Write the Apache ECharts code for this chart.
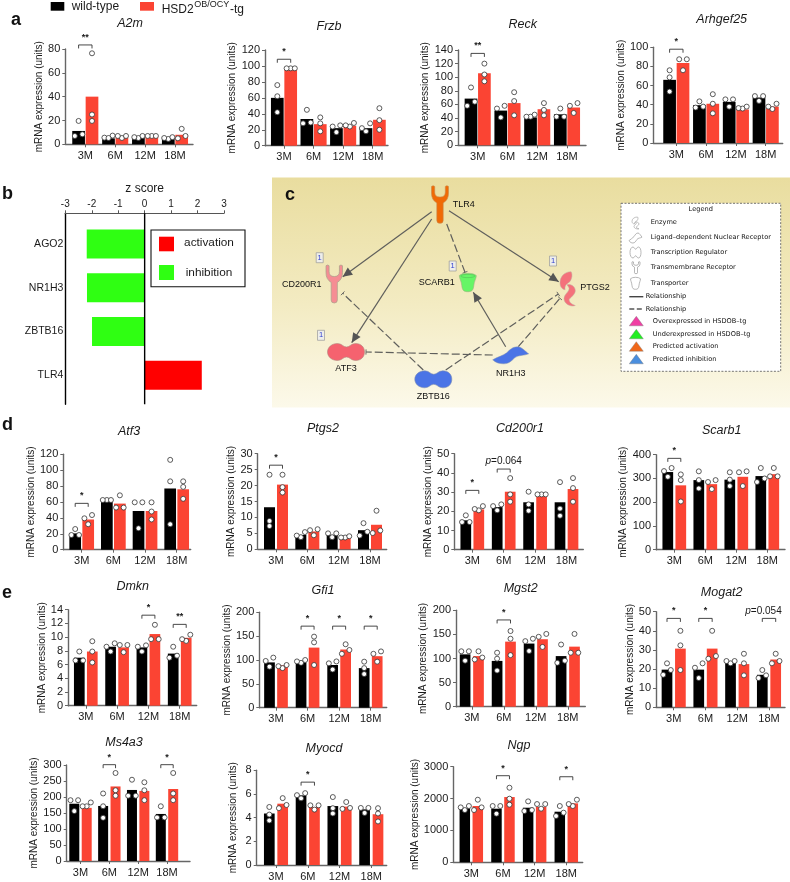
<!DOCTYPE html>
<html><head><meta charset="utf-8">
<style>html,body{margin:0;padding:0;background:#fff}#c{width:790px;height:882px}#c canvas{filter:blur(.35px)}</style>
<script src="https://cdn.jsdelivr.net/npm/echarts@6/dist/echarts.min.js"></script>
</head><body><div id="c"></div>
<script>
const categories=['3M','6M','12M','18M'];
const wildName='wild-type', tgName='HSD2 OB/OCY-tg';
const zGenes=['AGO2','NR1H3','ZBTB16','TLR4'];
const zScores=[-2.19,-2.18,-1.99,2.16];

// ---- values: bar heights, individual animals, significance brackets [category, level, text]
const a2mW=[11.2,5,5.5,4.5], a2mT=[40,5.5,6.5,8];
const a2mWD=[[19.6,7,8.4],[5.6,7.3,5.3],[5.3,7,6],[4.5,6,5.3]], a2mTD=[[76.4,25,19.6],[5.3,7,7],[7,7,7],[5,13,7]];
const a2mM=[[0,83.4,'**']];
const frzbW=[60,33.5,22,22], frzbT=[96,27,25,32.5];
const frzbWD=[[76,62,42],[45,28,29],[25.5,17,24],[28,18,22]], frzbTD=[[97,97,97],[35.5,28,18],[24,28.5,25.5],[47,32,20]];
const frzbM=[[0,108.4,'*']];
const reckW=[68.6,51,41,45.5], reckT=[106,62,53,55.5];
const reckWD=[[85,64,58],[58,41,54],[42,45,42],[42,54,42]], reckTD=[[120,104,94],[78,65,44],[62,52,44],[62,47.5,58]];
const reckM=[[0,135,'**']];
const arhgW=[66,39.5,43,47.5], arhgT=[83.5,41,35,38];
const arhgWD=[[76,68.6,53.7],[37,43.5,38],[45.6,38,45.6],[49,44,49]], arhgTD=[[87.5,76,87.5],[51,41,31],[36,38,36.5],[41,35.5,38]];
const arhgM=[[0,98,'*']];
const atf3W=[20.5,62.5,48.7,77], atf3T=[38,58,48.7,76];
const atf3WD=[[26,18.5,18.5],[62.5,62.5,62.5],[59.6,27,59.6],[113,86,32]], atf3TD=[[43.6,32,39.5],[68.4,53,53],[59.6,48,38],[86,79,64]];
const atf3M=[[0,58.3,'*']];
const ptgsW=[13.2,4.5,4.5,6], ptgsT=[20.3,5.6,3.7,7.7];
const ptgsWD=[[23.4,8.9,7.3],[5.4,3.8,4.3],[5,3.8,5],[8.2,4.3,5.5]], ptgsTD=[[23.4,19.5,17.8],[6.3,4.4,6],[3.7,4.1,3.7],[12.1,5.1,5.9]];
const ptgsM=[[0,26.4,'*']];
const cd200W=[15.3,22.2,24.7,24.7], cd200T=[21,30.2,28.8,31.6];
const cd200WD=[[17.9,14.4,14.4],[23.6,20.5,22.7],[30.2,23.6,20.3],[35.2,21.4,17.7]], cd200TD=[[22.7,20.5,21.2],[37.3,28.8,25],[28.8,28.8,28.8],[37.3,32.1,25]];
const cd200M=[[0,30.9,'*'],[1,42,'p=0.064']];
const scarbW=[327,293,295,310], scarbT=[271,276,307,318];
const scarbWD=[[344,307,331],[330,293,258],[326,295,268],[344,285,300]], scarbTD=[[317,293,203],[293,255,285],[330,268,326],[344,309,309]];
const scarbM=[[0,384.6,'*']];
const dmknW=[7,8.6,8.5,7.6], dmknT=[7.9,8.5,10.45,9.9];
const dmknWD=[[7.9,6.6,6.6],[9.1,7.9,8.6],[8.8,7.9,8.6],[8.6,7,7.3]], dmknTD=[[9.4,7.9,6.3],[8.85,7.8,8.85],[11.8,9.7,9.7],[10.35,9.45,9.7]];
const dmknM=[[2,13.2,'*'],[3,11.86,'**']];
const gfi1W=[95,95,89.5,83], gfi1T=[89,126,122,108];
const gfi1WD=[[105,86,98],[94,100,97],[97,80,93],[96.5,83,70.6]], gfi1TD=[[83,89.5,87],[149,137,89.5],[133,121,113],[118,96.5,113]];
const gfi1M=[[1,171,'*'],[2,171,'*'],[3,171,'*']];
const mgstW=[108.6,95,131,105], mgstT=[105,135,140,124.6];
const mgstWD=[[115,95.5,115],[112,99.6,75],[141,115.6,136],[91,129,95.5]], mgstTD=[[98,115,102],[157,141,107],[151,124,145],[112,151,112]];
const mgstM=[[1,180,'*']];
const mogatW=[19.7,19.7,23.5,17], mogatT=[30.7,30.7,22.6,25];
const mogatWD=[[23,17,19.5],[23,20.7,15.3],[23,24.2,24.2],[19.5,15.3,16.7]], mogatTD=[[40,32.4,19.5],[40,25.4,26.8],[28,23,16.7],[28,23,24.2]];
const mogatM=[[0,46.5,'*'],[1,46.5,'*'],[3,46.5,'p=0.054']];
const ms4aW=[179,172,222,147], ms4aT=[166,233,219,225];
const ms4aWD=[[190,156,190],[211,171,135],[254,204,204],[171,136,136]], ms4aTD=[[171,183,171],[275,221,204],[246,221,190],[275,211,190]];
const ms4aM=[[1,301,'*'],[3,301,'*']];
const myocW=[4.35,5.88,4.98,4.7], myocT=[5.18,4.9,4.93,4.29];
const myocWD=[[4.9,4.26,3.76],[6.07,5.63,5.9],[5.74,4.8,4.35],[4.82,4.4,4.82]], myocTD=[[4.8,5.65,5.07],[5.04,4.68,5.04],[4.74,5.32,4.82],[4.8,4.35,3.68]];
const myocM=[[1,7,'*']];
const ngpW=[1693,1682,1713,1588], ngpT=[1766,2048,1735,1850];
const ngpWD=[[1766,1640,1724],[1766,1525,1766],[1912,1609,1640],[1766,1452,1557]], ngpTD=[[1640,1964,1724],[2340,1996,1808],[1828,1682,1828],[1766,1964,1828]];
const ngpM=[[1,2717,'*'],[3,2685,'*']];

const genes=[
 ['A2m',a2mW,a2mT,a2mWD,a2mTD,a2mM,80,20],
 ['Frzb',frzbW,frzbT,frzbWD,frzbTD,frzbM,120,20],
 ['Reck',reckW,reckT,reckWD,reckTD,reckM,140,20],
 ['Arhgef25',arhgW,arhgT,arhgWD,arhgTD,arhgM,100,20],
 ['Atf3',atf3W,atf3T,atf3WD,atf3TD,atf3M,120,20],
 ['Ptgs2',ptgsW,ptgsT,ptgsWD,ptgsTD,ptgsM,30,5],
 ['Cd200r1',cd200W,cd200T,cd200WD,cd200TD,cd200M,50,10],
 ['Scarb1',scarbW,scarbT,scarbWD,scarbTD,scarbM,400,100],
 ['Dmkn',dmknW,dmknT,dmknWD,dmknTD,dmknM,14,2],
 ['Gfi1',gfi1W,gfi1T,gfi1WD,gfi1TD,gfi1M,200,50],
 ['Mgst2',mgstW,mgstT,mgstWD,mgstTD,mgstM,200,50],
 ['Mogat2',mogatW,mogatT,mogatWD,mogatTD,mogatM,50,10],
 ['Ms4a3',ms4aW,ms4aT,ms4aWD,ms4aTD,ms4aM,300,50],
 ['Myocd',myocW,myocT,myocWD,myocTD,myocM,8,2],
 ['Ngp',ngpW,ngpT,ngpWD,ngpTD,ngpM,3000,1000]
];

// ---- layout: axisLeft, axisRight, plotTop, plotBottom, centre of 3M, centre of 18M, barW, barOffset, titleX, titleY, nameX
const layout={
 A2m:[65.3,193,49,144.3,85.3,175,12.7,6.7,130,24,41.7],
 Frzb:[265,388,50,145.7,284,372.7,12.7,6.7,329,27,232],
 Reck:[458,586,50,145.3,477.7,567,12.7,6.7,522.7,25,428],
 Arhgef25:[653.3,782.7,47.3,143,676.3,765.7,12.7,6.7,721.7,20,623],
 Atf3:[63.3,190.7,454.3,549.7,81.7,176.7,11.7,6.5,129,431.7,36],
 Ptgs2:[257.7,386.7,453.7,549.3,276,370,11,6.5,323,429,235],
 Cd200r1:[454.3,583.3,453.7,549.7,472.3,566.5,10.7,6.5,520,429,430.7],
 Scarb1:[656,785,454.7,549.7,674.3,767.3,10.7,6.5,721.7,431,626],
 Dmkn:[68,196.7,609.7,705.7,85.8,179.7,10.7,6.5,132.7,587,44],
 Gfi1:[259.3,386.7,612.3,707.7,276,370.7,10.7,6.5,323,590.7,230.7],
 Mgst2:[456,585.3,610.3,706.7,471.8,567.8,10.7,6.7,520.7,589,426],
 Mogat2:[656,785,611.7,707.3,673.7,769,10.7,6.7,721.7,593,634],
 Ms4a3:[66.7,190,765,861,80.5,167,10,6.2,124,742.7,35],
 Myocd:[256.7,386.7,770.3,866,276,371.3,10.7,6.7,324,748.3,231.7],
 Ngp:[453.3,582.7,766.7,862.3,471.3,566.3,10.5,6.5,519,745.7,416.7]
};
const markShift={Mogat2:-5.5};

const FONT='"Liberation Sans",Arial,sans-serif';
const RED='#fb4433', BLACK='#000', AXIS='#666', TXT='#1a1a1a';
const grid=[],xAxis=[],yAxis=[],series=[],title=[];

function swarm(vals,pxPerUnit){
  // values closer than a dot's width are spread side by side
  const idx=vals.map((v,i)=>[v,i]).sort((a,b)=>a[0]-b[0]);
  const off=new Array(vals.length).fill(0);
  let k=0;
  while(k<idx.length){
    let e=k;
    while(e+1<idx.length && (idx[e+1][0]-idx[e][0])*pxPerUnit<5) e++;
    const n=e-k+1;
    for(let j=k;j<=e;j++){
      const p=j-k;
      off[idx[j][1]] = n===1?0 : n===2?(p===0?-3.8:3.8) : (p===0?0:(p===1?-4.1:4.1));
    }
    k=e+1;
  }
  return off;
}

genes.forEach((g,gi)=>{
  const [name,w,t,wd,td,marks,ymax,step]=g;
  const [L,R,T,B,c0,c3,barW,barOff,tx,ty,nx]=layout[name];
  const u=(c3-c0)/3;
  const pxU=(B-T)/ymax;
  grid.push({left:L,top:T,width:R-L,height:B-T,containLabel:false});
  xAxis.push({gridIndex:gi,type:'value',min:(L-c0)/u,max:(R-c0)/u,containShape:false,
    splitLine:{show:false},
    axisLine:{show:true,onZero:false,lineStyle:{color:AXIS,width:1.4}},
    axisTick:{show:true,length:3,customValues:[0,1,2,3],lineStyle:{color:AXIS,width:1}},
    axisLabel:{customValues:[0,1,2,3],formatter:v=>categories[Math.round(v)],fontSize:11,fontFamily:FONT,color:TXT,margin:6}});
  yAxis.push({gridIndex:gi,type:'value',min:0,max:ymax,interval:step,splitLine:{show:false},
    name:'mRNA expression (units)',nameLocation:'middle',nameGap:L-nx-6.5,nameRotate:90,
    nameTextStyle:{fontSize:10,fontFamily:FONT,color:TXT},
    axisLine:{show:true,onZero:false,lineStyle:{color:AXIS,width:1.4}},
    axisTick:{show:true,length:3,lineStyle:{color:AXIS,width:1}},
    axisLabel:{fontSize:11,fontFamily:FONT,color:TXT,margin:5,formatter:v=>String(v)}});
  title.push({text:name,left:tx,top:ty,textAlign:'center',textVerticalAlign:'middle',padding:0,
    textStyle:{fontSize:12.5,fontStyle:'italic',fontWeight:'normal',fontFamily:FONT,color:TXT}});
  const dx=barOff/u;
  series.push({type:'bar',name:wildName,xAxisIndex:gi,yAxisIndex:gi,barWidth:barW,barGap:'-100%',itemStyle:{color:BLACK},
    data:w.map((v,i)=>[i-dx,v]),animation:false,silent:true,z:2});
  series.push({type:'bar',name:tgName,xAxisIndex:gi,yAxisIndex:gi,barWidth:barW,barGap:'-100%',itemStyle:{color:RED},
    data:t.map((v,i)=>[i+dx,v]),animation:false,silent:true,z:2});
  const dots=(arr,sign)=>{const out=[];arr.forEach((vals,i)=>{const o=swarm(vals,pxU);vals.forEach((v,j)=>out.push([i+sign*dx+o[j]/u,v]));});return out;};
  [[wd,-1],[td,1]].forEach(([arr,sign])=>series.push({type:'scatter',xAxisIndex:gi,yAxisIndex:gi,symbol:'circle',symbolSize:5,
    itemStyle:{color:'#fff',borderColor:'#333',borderWidth:0.8,opacity:1},data:dots(arr,sign),animation:false,silent:true,z:4}));
  const shift=markShift[name]||0;
  series.push({type:'custom',xAxisIndex:gi,yAxisIndex:gi,clip:false,animation:false,silent:true,z:5,
    encode:{x:0,y:1},data:marks.map(m=>[m[0],m[1]]),
    renderItem:(p,api)=>{
      const m=marks[p.dataIndex];
      const a=api.coord([m[0]-dx,m[1]]),b=api.coord([m[0]+dx,m[1]]);
      const isP=m[2][0]==='p';
      const x=(a[0]+b[0])/2;
      return {type:'group',children:[
        {type:'polyline',shape:{points:[[a[0],a[1]+3.5],[a[0],a[1]],[b[0],b[1]],[b[0],b[1]+3.5]]},style:{stroke:'#333',lineWidth:0.9,fill:'none'}},
        {type:'text',style:isP?{
            x:x+shift,y:a[1]-7.5,text:'{i|p}'+m[2].slice(1),textAlign:'center',textVerticalAlign:'middle',font:'10px '+FONT,fill:TXT,
            rich:{i:{fontStyle:'italic',fontSize:10,fontFamily:FONT,fill:TXT}}
          }:{x:x,y:a[1]-3,text:m[2],textAlign:'center',textVerticalAlign:'bottom',font:'bold 9px '+FONT,fill:TXT}}
      ]};
    }});
});

// ---- panel b: z scores. One grid carries the frame, one the bars
const zFrame=genes.length, zBars=genes.length+1;
grid.push({left:65.3,top:213.3,width:158.7,height:191});
xAxis.push({gridIndex:zFrame,type:'value',position:'top',min:-3,max:3,interval:1,splitLine:{show:false},
  name:'z score',nameLocation:'middle',nameGap:19,nameTextStyle:{fontSize:12,fontFamily:FONT,color:TXT},
  axisLine:{show:true,onZero:false,lineStyle:{color:'#555',width:1}},axisTick:{show:true,length:3,lineStyle:{color:'#555'}},
  axisLabel:{fontSize:10,fontFamily:FONT,color:TXT,margin:4}});
yAxis.push({gridIndex:zFrame,type:'value',min:0,max:1,splitLine:{show:false},axisLine:{show:true,onZero:false,lineStyle:{color:'#000',width:1.4}},axisTick:{show:false},axisLabel:{show:false}});
series.push({type:'line',xAxisIndex:zFrame,yAxisIndex:zFrame,data:[[0,0],[0,1]],symbol:'none',lineStyle:{color:'#000',width:1.4},animation:false,silent:true,z:3});
grid.push({left:65.3,top:222.2,width:158.7,height:175});
xAxis.push({gridIndex:zBars,type:'value',min:-3,max:3,show:false});
yAxis.push({gridIndex:zBars,type:'category',inverse:true,data:zGenes,axisLine:{show:false,onZero:false},axisTick:{show:false},
  axisLabel:{fontSize:10.5,fontFamily:FONT,color:TXT,margin:2}});
series.push({type:'bar',xAxisIndex:zBars,yAxisIndex:zBars,barWidth:29,animation:false,silent:true,z:2,
  data:zScores.map(v=>({value:v,itemStyle:{color:v<0?'#2fff12':'#ff0000'}}))});

// ---- free drawing: legends, panel letters, pathway diagram
const gfx=[];
const glyphs=[];
const txt=(text,x,y,o={})=>gfx.push({type:'text',silent:true,z:o.z||20,style:{text,x,y,textAlign:o.a||'left',textVerticalAlign:'middle',
  font:(o.w?o.w+' ':'')+(o.s||10)+'px '+(o.f||FONT),fill:o.c||TXT}});

gfx.push({type:'rect',silent:true,z:0,shape:{x:272,y:177.5,width:518,height:230},
  style:{fill:new echarts.graphic.LinearGradient(0,0,0,1,[{offset:0,color:'#e9dd9f'},{offset:.55,color:'#f3ebc2'},{offset:1,color:'#fcf9ea'}])}});
gfx.push({type:'rect',silent:true,z:1,shape:{x:621,y:203.3,width:159.7,height:168},style:{fill:'#fff',stroke:'#666',lineWidth:0.9,lineDash:[2,1.5]}});

const path=(d,x,y,w,h,fill,stroke,lw)=>glyphs.push({d,x,y,w,h,fill,stroke:stroke||'none',lw:lw||0.7});
const Y_PATH='M-8,0 Q-6.5,-1.5 -5,0 L-5,6 Q-5,11 0,11 Q5,11 5,6 L5,0 Q6.5,-1.5 8,0 L8,7 Q8,14 3,17 L3,35 Q3,38 0,38 Q-3,38 -3,35 L-3,17 Q-8,14 -8,7 Z';
const BELL='M10,0 C14,0 16,3.5 19,3.5 C22,3.5 24,0 28,0 C34,0 37,4 37,8.5 C37,13 34,17 28,17 C24,17 22,13.5 19,13.5 C16,13.5 14,17 10,17 C4,17 0,13 0,8.5 C0,4 4,0 10,0 Z';
const WAVE='M0,13 C5,10 10,9 14,6 C17,3 20,0 25,0 C29,0 33,5 36,7 C32,9 25,8 22,11 C19,14 16,17 11,17 C7,17 3,16 0,13 Z';
const CUP='M0,2 C3,-1 14,-1 17,2 C17,5 15,7 14.5,12 C14,17 12,18 8.5,18 C5,18 3,17 2.5,12 C2,7 0,5 0,2 Z';
const CRES1='M13,0 C5,0 0,6 0,13 C0,18 3,21 6,21 C5,15 9,14 12,11 C14,8 15,3 13,0 Z';
const CRES2='M3,0 C7,-1 11,2 11,6 C11,10 6,13 5,15 C5,18 8,20 11,21 C6,23 0,19 0,14 C0,10 5,7 5,4 C5,2 3,1 3,0 Z';
const nodeLabel=(t,x,y)=>txt(t,x,y,{a:'center',s:9,c:'#111'});

const edges=[
 [431.7,211.7,342.7,276.7,'a'],[431.7,219,351.7,342.7,'a'],[449,210.7,558.7,281.7,'a'],[505.7,346.7,473.3,292.3,'a'],
 [446.7,224,465,272.3,'t'],[492.7,355,366,352,'t'],[518.3,346.7,560,298.3,'t'],[445.7,370,558.3,294,'t'],[423.3,370,342.7,293.3,'t']
];
edges.forEach(([x1,y1,x2,y2,k])=>{
  const len=Math.hypot(x2-x1,y2-y1),ux=(x2-x1)/len,uy=(y2-y1)/len;
  gfx.push({type:'line',silent:true,z:6,shape:{x1,y1,x2,y2},style:{stroke:'#5f5f5c',lineWidth:1.2,lineDash:k==='a'?null:[8,3]}});
  if(k==='a'){
    const bx=x2-ux*9.5,by=y2-uy*9.5,nxv=-uy*4.4,nyv=ux*4.4;
    gfx.push({type:'polygon',silent:true,z:6,shape:{points:[[x2,y2],[bx+nxv,by+nyv],[bx-nxv,by-nyv]]},style:{fill:'#555'}});
  }else{
    gfx.push({type:'line',silent:true,z:6,shape:{x1:x2-uy*2.6,y1:y2+ux*2.6,x2:x2+uy*2.6,y2:y2-ux*2.6},style:{stroke:'#5f5f5c',lineWidth:0.9}});
  }
});
path(Y_PATH,431.5,185.7,17,37.6,'#f06a05','#c8884a',0.6); nodeLabel('TLR4',463.7,204.3);
path(Y_PATH,326,265,16.5,38,'#f58d93','#a8a08a',0.7); nodeLabel('CD200R1',301.7,284.3);
path(CUP,459.3,273.3,17,18.4,'#66f566','#a0b080',0.6);
gfx.push({type:'ellipse',silent:true,z:30,shape:{cx:467.8,cy:276,rx:7,ry:1.6},style:{fill:'none',stroke:'#55b055',lineWidth:0.5}});
nodeLabel('SCARB1',436.7,282.7);
path(CRES1,560,271.7,12,18,'#f4717b','#c0b0a0',0.5); path(CRES2,564,284.5,11.3,21.5,'#f4717b','#c0b0a0',0.5); nodeLabel('PTGS2',595,287.3);
path(BELL,327.5,343.5,37,17,'#f5626f','#b08a80',0.6); nodeLabel('ATF3',346,369);
path(BELL,414.8,370.8,37,17,'#4b74e6','#7f8fb0',0.6); nodeLabel('ZBTB16',433.3,396.7);
path(WAVE,492.7,346.8,36,17,'#4b74e6','#7f8fb0',0.5); nodeLabel('NR1H3',510.7,373.3);
[[319.7,257.7],[452.7,266],[553,261],[321,335.3]].forEach(([x,y])=>{
  gfx.push({type:'rect',silent:true,z:9,shape:{x:x-3.5,y:y-5,width:7,height:10},style:{fill:'#eeeeea',stroke:'#999',lineWidth:0.7}});
  txt('1',x,y,{a:'center',s:7.5,c:'#2f3fd0'});
});

// diagram legend
const LF='"DejaVu Sans",sans-serif';
txt('Legend',700.7,209.3,{a:'center',s:6.6,f:LF,c:'#111'});
[['Enzyme',650.7,222.3],['Ligand\u2013dependent Nuclear Receptor',650.7,237.7],['Transcription Regulator',650.7,252.7],['Transmembrane Receptor',650.7,267.7],['Transporter',650.7,283],
 ['Relationship',645.7,296.7],['Relationship',645.7,309],['Overexpressed in HSDOB\u2013tg',652.7,321.3],['Underexpressed in HSDOB\u2013tg',652.7,334.3],['Predicted activation',652.7,346.7],['Predicted inhibition',652.7,359.3]]
 .forEach(([t,x,y])=>txt(t,x,y,{s:6.6,f:LF,c:'#111'}));
const G='#999';
path(CRES1,632,217,6,7,'#fff',G,0.6); path(CRES2,634,222,5,7,'#fff',G,0.6);
path(WAVE,629,233,13,10,'#fff',G,0.7);
path(BELL,630,247,11,11,'#fff',G,0.7);
path(Y_PATH,632,261.7,8,12,'#fff',G,0.7);
path(CUP,630.5,277.3,10,12,'#fff',G,0.7);
gfx.push({type:'line',silent:true,z:8,shape:{x1:629.3,y1:296.7,x2:643.3,y2:296.7},style:{stroke:'#444',lineWidth:1.4}});
gfx.push({type:'line',silent:true,z:8,shape:{x1:629.3,y1:309,x2:643.3,y2:309},style:{stroke:'#555',lineWidth:1.4,lineDash:[5,2.5]}});
[[321.3,'#f03fa4'],[334.3,'#22ee22'],[346.7,'#f0681a'],[359.3,'#4a8ede']].forEach(([y,c])=>
  gfx.push({type:'polygon',silent:true,z:8,shape:{points:[[636.3,y-5],[629.3,y+4.5],[643.3,y+4.5]]},style:{fill:c,stroke:'#777',lineWidth:0.4}}));

// glyph shapes of the diagram are drawn by one custom series in page coordinates
series.push({type:'custom',coordinateSystem:'none',animation:false,silent:true,z:8,clip:false,
  data:glyphs.map((_,i)=>[i]),
  renderItem:(p)=>{const g=glyphs[p.dataIndex];
    return {type:'path',shape:{pathData:g.d,x:g.x,y:g.y,width:g.w,height:g.h,layout:'cover'},style:{fill:g.fill,stroke:g.stroke,lineWidth:g.lw}};}});

// panel b legend
gfx.push({type:'rect',silent:true,z:18,shape:{x:151,y:230,width:94,height:56.7},style:{fill:'#fff',stroke:'#111',lineWidth:1.1}});
gfx.push({type:'rect',silent:true,z:19,shape:{x:159,y:236.7,width:15,height:14.6},style:{fill:'#ff0000'}});
gfx.push({type:'rect',silent:true,z:19,shape:{x:159,y:265,width:15,height:15},style:{fill:'#2fff12'}});
txt('activation',209,243,{a:'center',s:11.8});
txt('inhibition',209,272.7,{a:'center',s:11.8});

// top legend
gfx.push({type:'rect',silent:true,z:9,shape:{x:50.7,y:2,width:13.6,height:8.7},style:{fill:BLACK}});
gfx.push({type:'rect',silent:true,z:9,shape:{x:140,y:2,width:14,height:8.7},style:{fill:RED}});
txt('wild-type',71.7,7,{s:12});
txt('HSD2',161.7,9.6,{s:12});
txt('OB/OCY',194.2,5,{s:9});
txt('-tg',230,9.6,{s:12});

// panel letters
[['a',11,20],['b',2,194],['c',285,195],['d',2,425],['e',2,593]].forEach(([t,x,y])=>txt(t,x,y,{s:18,w:'bold',c:'#111'}));

const chart=echarts.init(document.getElementById('c'),null,{renderer:'canvas'});
chart.setOption({animation:false,backgroundColor:'#fff',title,grid,xAxis,yAxis,series,graphic:{elements:gfx}});
</script></body></html>
